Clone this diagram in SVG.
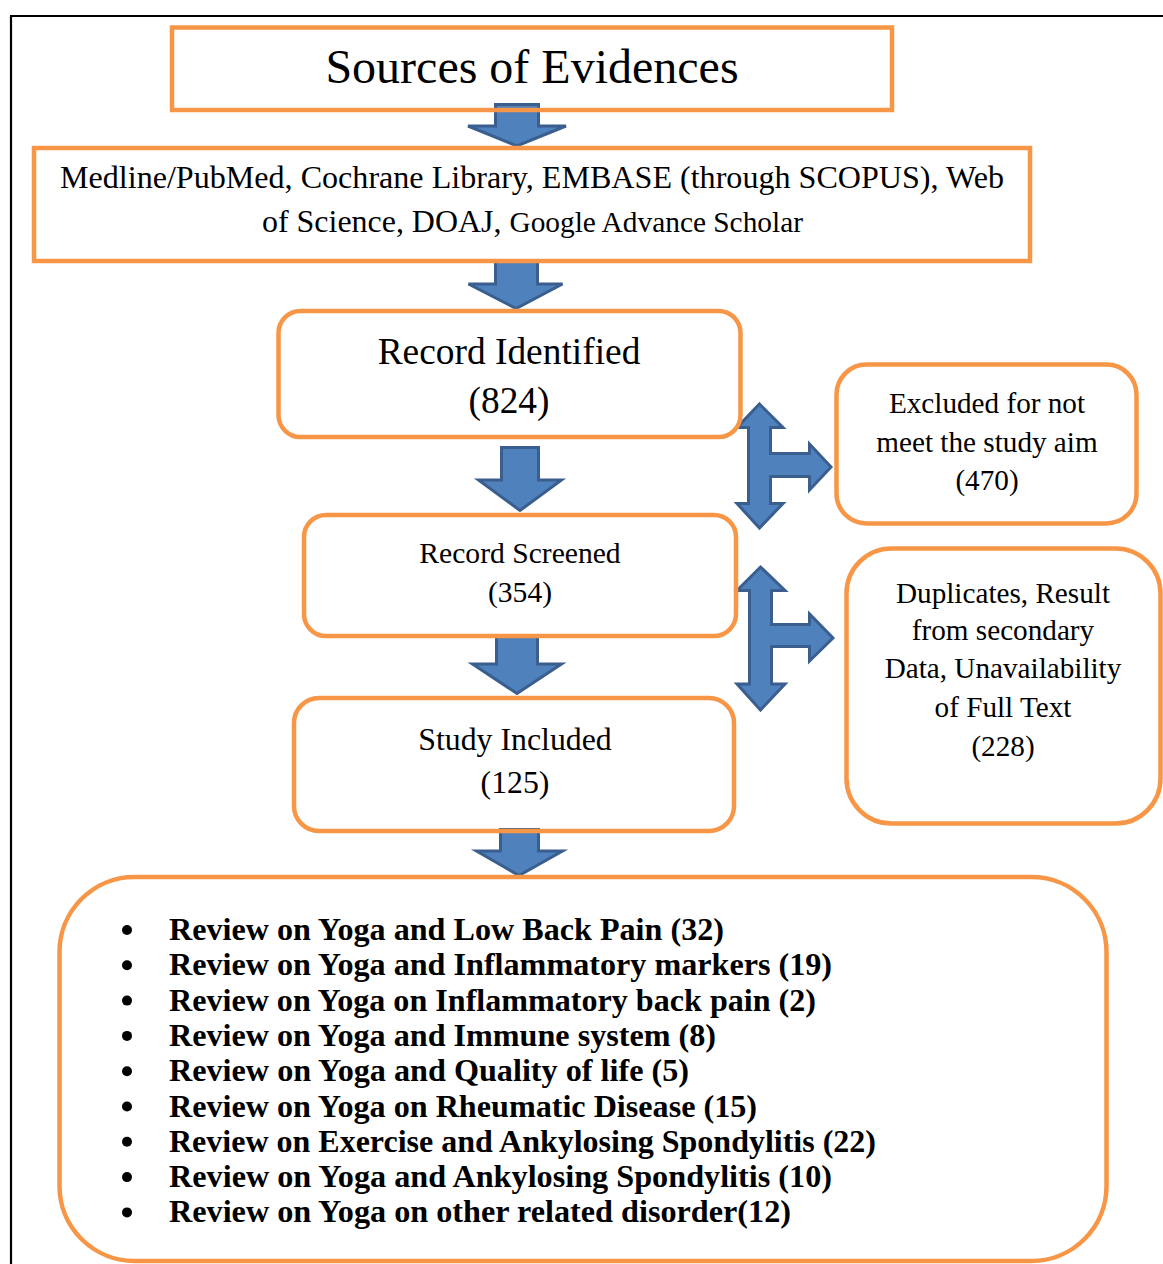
<svg xmlns="http://www.w3.org/2000/svg" width="1163" height="1264" viewBox="0 0 1163 1264">
  <style>
    .box { fill: none; stroke: #F79646; stroke-width: 4.5; }
    .arrow { fill: #4F81BD; stroke: #3A5F8F; stroke-width: 3; stroke-linejoin: miter; }
    .t { font-family: "Liberation Serif", "Times New Roman", serif; fill: #000; text-anchor: middle; }
    .li { font-family: "Liberation Serif", "Times New Roman", serif; font-weight: bold; font-size: 32px; fill: #000; }
    .dot { fill: #000; }
  </style>
  <rect width="1163" height="1264" fill="#fff"/>

  <!-- page frame -->
  <path d="M10 16 H1163 M11 16 V1264" stroke="#000" stroke-width="2.2" fill="none"/>

  <!-- connectors -->
  <g id="connectors">
    <path class="arrow" d="M495.5 104.5 H538.5 V126 H566 L517 146 L468 126 H495.5 Z"/>
    <path class="arrow" d="M495.5 260.5 H537.5 V284 H562.5 L516 308.5 L468.5 284 H495.5 Z"/>
    <path class="arrow" d="M501.5 447.5 H538.5 V480 H561.5 L520 510.5 L478.5 480 H501.5 Z"/>
    <path class="arrow" d="M496.5 636.5 H537.5 V664 H561.5 L517 693.5 L472.5 664 H496.5 Z"/>
    <path class="arrow" d="M500.5 829.5 H538.5 V851 H562.5 L519 875.5 L476.5 851 H500.5 Z"/>
    <path class="arrow" d="M759.5 404 L783 427.5 H770.5 V453.5 H809.5 V444 L831 467 L809.5 490 V476.5 H770.5 V503.5 H783 L759.5 528 L737 503.5 H748.5 V427.5 H737 Z"/>
    <path class="arrow" d="M760.5 567 L785 590.5 H771.5 V624.5 H809.5 V614 L833 638 L809.5 661 V646.5 H771.5 V684 H785 L760.5 710 L737 684 H749.5 V590.5 H737 Z"/>
  </g>

  <g id="sources">
    <rect class="box" x="172" y="27.5" width="720" height="82.5"/>
    <text class="t" x="532" y="83" font-size="48">Sources of Evidences</text>
  </g>

  <g id="databases">
    <rect class="box" x="34" y="148" width="996" height="113"/>
    <text class="t" x="532" y="188" font-size="31" textLength="944" lengthAdjust="spacingAndGlyphs">Medline/PubMed, Cochrane Library, EMBASE (through SCOPUS), Web</text>
    <text class="t" x="532.5" y="232" font-size="31" textLength="541" lengthAdjust="spacingAndGlyphs">of Science, DOAJ, <tspan font-size="28.5">Google Advance Scholar</tspan></text>
  </g>

  <g id="identified">
    <rect class="box" x="278.5" y="311" width="462" height="126" rx="22"/>
    <text class="t" x="509" y="364" font-size="37.4">Record Identified</text>
    <text class="t" x="509" y="413" font-size="37.4">(824)</text>
  </g>

  <g id="excluded">
    <rect class="box" x="836.5" y="364.5" width="300" height="159" rx="30"/>
    <text class="t" x="987" y="413" font-size="29.2">Excluded for not</text>
    <text class="t" x="987" y="452" font-size="29.2">meet the study aim</text>
    <text class="t" x="987" y="490" font-size="29.2">(470)</text>
  </g>

  <g id="screened">
    <rect class="box" x="304" y="515" width="432" height="121" rx="22"/>
    <text class="t" x="520" y="563" font-size="29.6">Record Screened</text>
    <text class="t" x="520" y="602" font-size="29.6">(354)</text>
  </g>

  <g id="removed">
    <rect class="box" x="846.5" y="548.5" width="314" height="275" rx="45"/>
    <text class="t" x="1003" y="603" font-size="29.2">Duplicates, Result</text>
    <text class="t" x="1003" y="640" font-size="29.2">from secondary</text>
    <text class="t" x="1003" y="678" font-size="29.2">Data, Unavailability</text>
    <text class="t" x="1003" y="717" font-size="29.2">of Full Text</text>
    <text class="t" x="1003" y="756" font-size="29.2">(228)</text>
  </g>

  <g id="included">
    <rect class="box" x="294" y="698" width="440" height="133" rx="25"/>
    <text class="t" x="515" y="750" font-size="31.8">Study Included</text>
    <text class="t" x="515" y="793" font-size="31.8">(125)</text>
  </g>

  <g id="reviews">
    <rect class="box" x="59.5" y="877" width="1047" height="384" rx="75"/>
    <g class="dot">
      <circle cx="127" cy="930" r="5"/>
      <circle cx="127" cy="965.3" r="5"/>
      <circle cx="127" cy="1000.6" r="5"/>
      <circle cx="127" cy="1035.9" r="5"/>
      <circle cx="127" cy="1071.2" r="5"/>
      <circle cx="127" cy="1106.5" r="5"/>
      <circle cx="127" cy="1141.8" r="5"/>
      <circle cx="127" cy="1177.1" r="5"/>
      <circle cx="127" cy="1212.4" r="5"/>
    </g>
    <text class="li" x="169" y="940" textLength="555" lengthAdjust="spacingAndGlyphs">Review on Yoga and Low Back Pain (32)</text>
    <text class="li" x="169" y="975.3" textLength="663" lengthAdjust="spacingAndGlyphs">Review on Yoga and Inflammatory markers (19)</text>
    <text class="li" x="169" y="1010.6" textLength="647" lengthAdjust="spacingAndGlyphs">Review on Yoga on Inflammatory back pain (2)</text>
    <text class="li" x="169" y="1045.9" textLength="547" lengthAdjust="spacingAndGlyphs">Review on Yoga and Immune system (8)</text>
    <text class="li" x="169" y="1081.2" textLength="520" lengthAdjust="spacingAndGlyphs">Review on Yoga and Quality of life (5)</text>
    <text class="li" x="169" y="1116.5" textLength="588" lengthAdjust="spacingAndGlyphs">Review on Yoga on Rheumatic Disease (15)</text>
    <text class="li" x="169" y="1151.8" textLength="707" lengthAdjust="spacingAndGlyphs">Review on Exercise and Ankylosing Spondylitis (22)</text>
    <text class="li" x="169" y="1187.1" textLength="663" lengthAdjust="spacingAndGlyphs">Review on Yoga and Ankylosing Spondylitis (10)</text>
    <text class="li" x="169" y="1222.4" textLength="622" lengthAdjust="spacingAndGlyphs">Review on Yoga on other related disorder(12)</text>
  </g>
</svg>
